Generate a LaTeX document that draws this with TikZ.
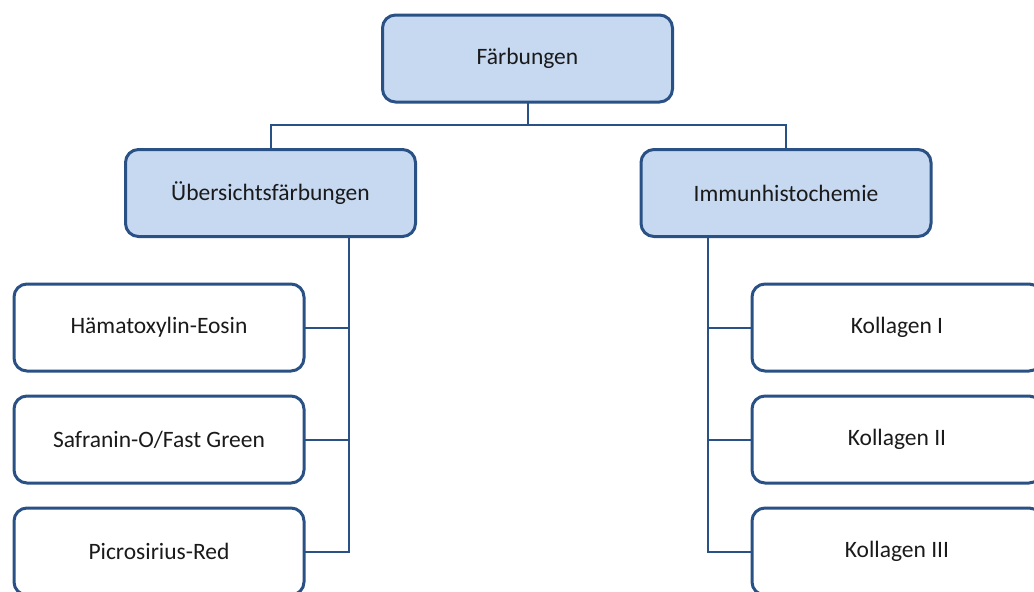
\documentclass[tikz,border=0pt]{standalone}
\usepackage{fontspec}
\setmainfont{Carlito}
\definecolor{edge}{HTML}{2A5185}
\definecolor{boxfill}{HTML}{C6D9F1}
\definecolor{txt}{HTML}{1A1A1A}
\begin{document}
\begin{tikzpicture}[x=1pt,y=-1pt,
  box/.style={draw=edge, line width=3pt, rounded corners=13pt, minimum width=290pt, minimum height=87pt,
    inner sep=0pt, outer sep=0pt, text=txt, font=\fontsize{23.5}{27}\selectfont, anchor=center},
  hbox/.style={box, fill=boxfill},
  lbox/.style={box, fill=white},
  conn/.style={draw=edge, line width=2pt}]
\clip (0,0) rectangle (1034,592);
\fill[white] (0,0) rectangle (1034,592);
\node[hbox] (top) at (527.5,58.5) {Färbungen};
\node[hbox] (lmid) at (270.5,193) {Übersichtsfärbungen};
\node[hbox] (rmid) at (786,193) {Immunhistochemie};
\node[lbox] (l1) at (159,327.5) {Hämatoxylin-Eosin};
\node[lbox] (l2) at (159,439.5) {Safranin-O/Fast Green};
\node[lbox] (l3) at (159,551.5) {Picrosirius-Red};
\node[lbox] (r1) at (897,327.5) {Kollagen I};
\node[lbox] (r2) at (897,439.5) {Kollagen II};
\node[lbox] (r3) at (897,551.5) {Kollagen III};
\coordinate (tbus) at (527.5,125);
\coordinate (lbus) at (348.5,238);
\coordinate (rbus) at (707.5,238);
\draw[conn] (top.south) -- (tbus) -| (lmid.north);
\draw[conn] (tbus) -| (rmid.north);
\draw[conn] (lbus) |- (l1.east);
\draw[conn] (lbus) |- (l2.east);
\draw[conn] (lbus) |- (l3.east);
\draw[conn] (rbus) |- (r1.west);
\draw[conn] (rbus) |- (r2.west);
\draw[conn] (rbus) |- (r3.west);
\end{tikzpicture}
\end{document}
